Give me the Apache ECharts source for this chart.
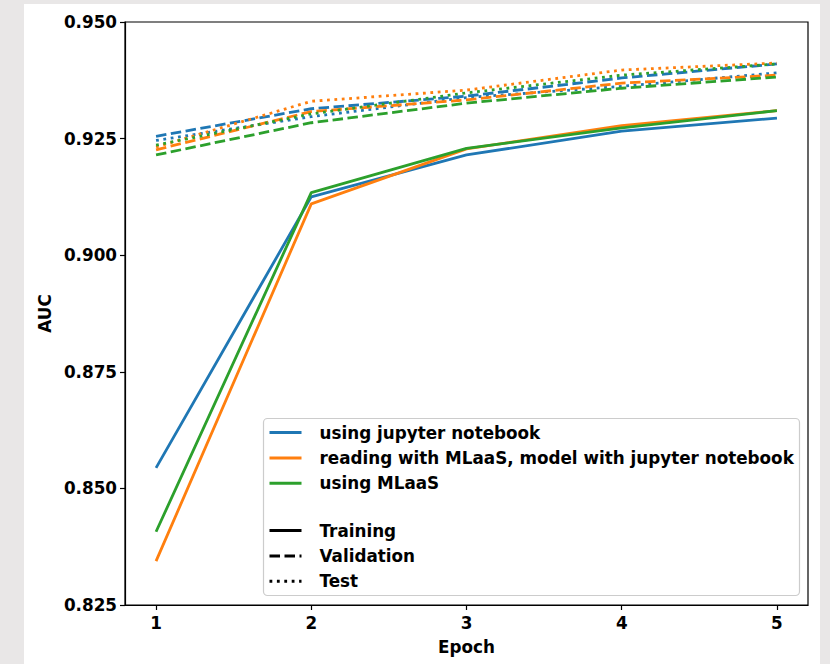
<!DOCTYPE html>
<html>
<head>
<meta charset="utf-8">
<script src="https://cdn.jsdelivr.net/npm/echarts@6/dist/echarts.min.js"></script>
<style>
  html, body { margin: 0; padding: 0; background: #e9e7e7; }
  #panel { position: absolute; left: 24px; top: 4px; width: 796px; height: 660px; background: #ffffff; }
  #chart { position: absolute; left: 0; top: 0; width: 830px; height: 664px; }
</style>
</head>
<body>
<div id="panel"></div>
<div id="chart"></div>
<script>
// ---- data ----
const epochs = [1, 2, 3, 4, 5];
const xTickLabels = ['1', '2', '3', '4', '5'];
const yTicks = [0.825, 0.850, 0.875, 0.900, 0.925, 0.950];

const groupNames = ['using jupyter notebook', 'reading with MLaaS, model with jupyter notebook', 'using MLaaS'];
const styleNames = ['Training', 'Validation', 'Test'];

// using jupyter notebook
const jupyterTrain = [0.8544, 0.9125, 0.9215, 0.9266, 0.9294];
const jupyterVal   = [0.9255, 0.9314, 0.9341, 0.9380, 0.9410];
const jupyterTest  = [0.9246, 0.9297, 0.9338, 0.9362, 0.9391];
// reading with MLaaS, model with jupyter notebook
const mixedTrain = [0.8344, 0.9110, 0.9228, 0.9278, 0.9310];
const mixedVal   = [0.9226, 0.9308, 0.9333, 0.9369, 0.9386];
const mixedTest  = [0.9232, 0.9330, 0.9354, 0.9397, 0.9412];
// using MLaaS
const mlaasTrain = [0.8407, 0.9134, 0.9229, 0.9273, 0.9310];
const mlaasVal   = [0.9215, 0.9284, 0.9326, 0.9358, 0.9382];
const mlaasTest  = [0.9236, 0.9303, 0.9348, 0.9386, 0.9410];

// ---- styles ----
const colors = ['#1f77b4', '#ff7f0e', '#2ca02c'];
const LW = 2.8;
const dashTypes = ['solid', [10.5, 4.5], [2.8, 4.6]];
const FONT = 'DejaVu Sans';
const FS = 16.8;

const seriesData = [
  [jupyterTrain, jupyterVal, jupyterTest],
  [mixedTrain, mixedVal, mixedTest],
  [mlaasTrain, mlaasVal, mlaasTest]
];

const series = [];
for (let g = 0; g < 3; g++) {
  for (let s = 0; s < 3; s++) {
    series.push({
      type: 'line',
      name: groupNames[g],
      data: epochs.map((e, i) => [e, seriesData[g][s][i]]),
      symbol: 'none',
      silent: true,
      lineStyle: { color: colors[g], width: LW, type: dashTypes[s], cap: 'butt' },
      itemStyle: { color: colors[g] },
      z: 2
    });
  }
}
// dummy series for line-style legend
for (let s = 0; s < 3; s++) {
  series.push({
    type: 'line',
    name: styleNames[s],
    data: [],
    symbol: 'none',
    lineStyle: { color: '#000000', width: LW, type: dashTypes[s], cap: 'butt' },
    itemStyle: { color: '#000000' }
  });
}

const legendCommon = {
  orient: 'vertical',
  left: 268,
  padding: 0,
  itemWidth: 32,
  itemHeight: 16,
  itemGap: 8.4,
  selectedMode: false,
  itemStyle: { color: 'transparent', borderWidth: 0, opacity: 0 },
  lineStyle: { width: 3 },
  textStyle: { fontFamily: FONT, fontWeight: 'bold', fontSize: FS, lineHeight: 16, color: '#000', padding: [0, 0, 0, 13] },
  z: 5
};

const chart = echarts.init(document.getElementById('chart'), null, { renderer: 'svg' });
chart.setOption({
  animation: false,
  backgroundColor: 'transparent',
  grid: {
    left: 125, right: 22, top: 22, bottom: 59,
    show: true, borderColor: '#000', borderWidth: 1.2, backgroundColor: 'transparent'
  },
  xAxis: {
    type: 'value',
    min: 0.8, max: 5.2,
    name: 'Epoch',
    nameLocation: 'middle',
    nameGap: 33,
    nameTextStyle: { fontFamily: FONT, fontWeight: 'bold', fontSize: FS, color: '#000' },
    axisLine: { show: true, lineStyle: { color: '#000', width: 1.2 } },
    axisTick: { show: true, inside: false, length: 5, lineStyle: { color: '#000', width: 1.2 }, customValues: epochs },
    axisLabel: {
      show: true, margin: 9, fontFamily: FONT, fontWeight: 'bold', fontSize: FS, color: '#000',
      customValues: epochs,
      formatter: v => xTickLabels[epochs.indexOf(Math.round(v))] || ''
    },
    splitLine: { show: false }
  },
  yAxis: {
    type: 'value',
    min: yTicks[0], max: yTicks[yTicks.length - 1],
    name: 'AUC',
    nameLocation: 'middle',
    nameGap: 72,
    nameRotate: 90,
    nameTextStyle: { fontFamily: FONT, fontWeight: 'bold', fontSize: FS, color: '#000' },
    axisLine: { show: true, lineStyle: { color: '#000', width: 1.2 } },
    axisTick: { show: true, inside: false, length: 5, lineStyle: { color: '#000', width: 1.2 }, customValues: yTicks },
    axisLabel: {
      show: true, margin: 8, fontFamily: FONT, fontWeight: 'bold', fontSize: FS, color: '#000',
      customValues: yTicks,
      formatter: v => v.toFixed(3)
    },
    splitLine: { show: false }
  },
  legend: [
    Object.assign({}, legendCommon, { top: 424, data: groupNames }),
    Object.assign({}, legendCommon, { top: 522, data: styleNames })
  ],
  graphic: [{
    type: 'rect',
    z: 4,
    shape: { x: 263.5, y: 418.5, width: 536, height: 177, r: 4 },
    style: { fill: 'rgba(255,255,255,0.8)', stroke: '#cccccc', lineWidth: 1.2 }
  }],
  series: series
});
</script>
</body>
</html>
